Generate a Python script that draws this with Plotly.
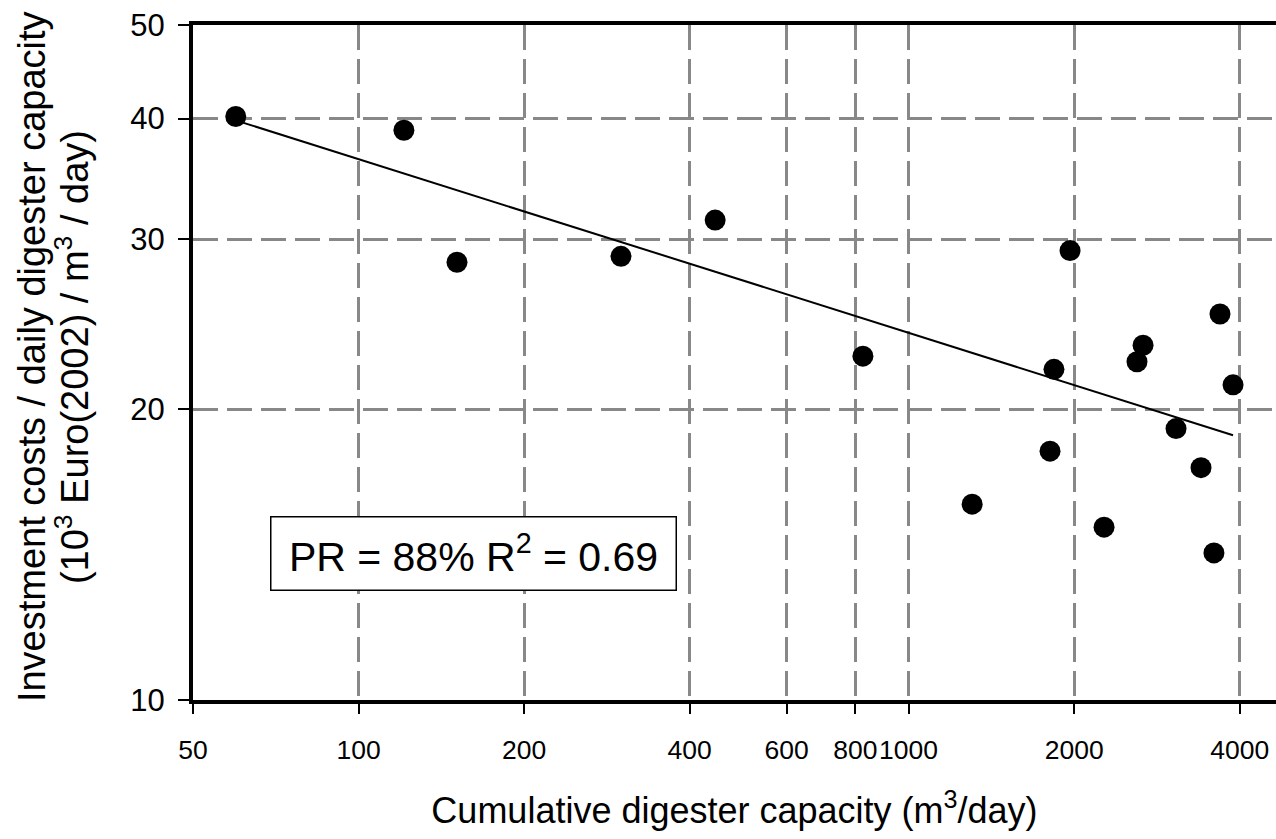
import numpy as np
import plotly.graph_objects as go

# Cumulative digester capacity (m3/day) and investment cost (10^3 Euro(2002) per m3/day)
capacity = [59.8, 120.9, 151, 300, 445, 826, 1305, 1808, 1838, 1966, 2267,
            2602, 2669, 3064, 3402, 3591, 3683, 3890]
cost = [40.2, 38.9, 28.4, 28.8, 31.4, 22.7, 15.95, 18.1, 22.0, 29.2, 15.1,
        22.4, 23.3, 19.1, 17.4, 14.2, 25.1, 21.2]

# Experience-curve trend (fitted power law), drawn from first to last capacity
trend_x = [58.4, 3890]
trend_y = [40.0, 18.8]

x_ticks = [50, 100, 200, 400, 600, 800, 1000, 2000, 4000]
x_tick_text = ["50", "100", "200", "400", "600", "800", "1000", "2000", "4000"]
y_ticks = [10, 20, 30, 40, 50]
y_tick_text = ["10", "20", "30", "40", "50"]

FONT = "Liberation Sans, Arial, Helvetica, sans-serif"

L, T = 193, 25
PW, PH = 1083, 675
W, H = 1276, 839

fig = go.Figure()
fig.add_trace(go.Scatter(
    x=trend_x, y=trend_y, mode="lines",
    line=dict(color="black", width=2), showlegend=False, hoverinfo="skip"))
fig.add_trace(go.Scatter(
    x=capacity, y=cost, mode="markers",
    marker=dict(color="black", size=21), showlegend=False))

fig.update_layout(
    width=W, height=H,
    margin=dict(l=L, r=W - L - PW, t=T, b=H - T - PH),
    paper_bgcolor="white", plot_bgcolor="white",
    font=dict(family=FONT, color="black"),
    xaxis=dict(
        type="log", range=[np.log10(50) - 1e-7, np.log10(50) + PW / 550],
        tickvals=x_ticks, ticktext=x_tick_text, tickangle=0,
        tickfont=dict(size=26.5, family=FONT, color="black"),
        ticks="outside", ticklen=10, tickwidth=2, tickcolor="black",
        ticklabelstandoff=13,
        showline=True, linecolor="black", linewidth=4, mirror=True,
        showgrid=True, gridcolor="#888888", gridwidth=3, griddash="25px,9px",
        zeroline=False,
        title=dict(text="Cumulative digester capacity (m<sup>3</sup>/day)",
                   font=dict(size=36, family=FONT, color="black"), standoff=35),
    ),
    yaxis=dict(
        type="log", range=[1 - 1e-7, np.log10(50) + 1e-7],
        tickvals=y_ticks, ticktext=y_tick_text,
        tickfont=dict(size=31, family=FONT, color="black"),
        ticks="outside", ticklen=11, tickwidth=2, tickcolor="black",
        ticklabelstandoff=7,
        showline=True, linecolor="black", linewidth=4, mirror=False,
        showgrid=True, gridcolor="#888888", gridwidth=3, griddash="25px,9px",
        zeroline=False,
    ),
    annotations=[
        dict(text="Investment costs / daily digester capacity",
             xref="paper", yref="paper", x=(32 - L) / PW, y=0.508,
             textangle=-90, showarrow=False, xanchor="center", yanchor="middle",
             font=dict(size=38, family=FONT, color="black")),
        dict(text="(10<sup>3</sup> Euro(2002) / m<sup>3</sup> / day)",
             xref="paper", yref="paper", x=(72 - L) / PW, y=0.508,
             textangle=-90, showarrow=False, xanchor="center", yanchor="middle",
             font=dict(size=38, family=FONT, color="black")),
        dict(text="PR = 88% R<sup>2</sup> = 0.69",
             xref="paper", yref="paper", x=(473.5 - L) / PW, y=(700 - 553.5) / PH,
             showarrow=False, xanchor="center", yanchor="middle",
             width=398, height=66, borderpad=3,
             bordercolor="black", borderwidth=1.5, bgcolor="white",
             font=dict(size=41, family=FONT, color="black")),
    ],
)

fig.write_html("out.html", config={"displayModeBar": False},
               post_script="document.body.style.margin='0';document.body.style.overflow='hidden';")
